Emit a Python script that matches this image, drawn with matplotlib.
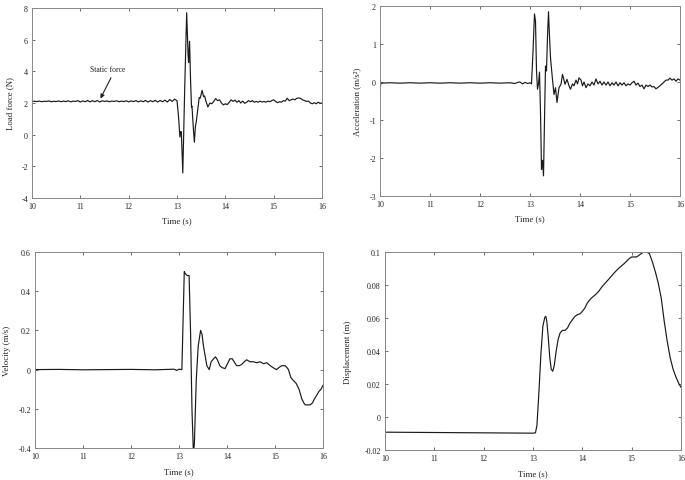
import matplotlib
matplotlib.use("Agg")
import matplotlib.pyplot as plt
from matplotlib.ticker import FuncFormatter

plt.rcParams['font.family'] = ['Liberation Serif', 'DejaVu Serif']

# ---------------- data ----------------
force_t = [10.0, 10.05, 10.1, 10.15, 10.2, 10.25, 10.3, 10.35, 10.4, 10.45, 10.5, 10.55, 10.6, 10.65,
           10.7, 10.75, 10.8, 10.85, 10.9, 10.95, 11.0, 11.05, 11.1, 11.15, 11.2, 11.25, 11.3, 11.35,
           11.4, 11.45, 11.5, 11.55, 11.6, 11.65, 11.7, 11.75, 11.8, 11.85, 11.9, 11.95, 12.0, 12.05,
           12.1, 12.15, 12.2, 12.25, 12.3, 12.35, 12.4, 12.45, 12.5, 12.55, 12.6, 12.65, 12.7, 12.75,
           12.8, 12.85, 12.9, 12.95, 13.0,
           13.03, 13.06, 13.08, 13.09, 13.12, 13.16, 13.2, 13.23, 13.24, 13.26, 13.28, 13.3, 13.31,
           13.34, 13.36, 13.38, 13.4, 13.43, 13.46, 13.48, 13.52, 13.55, 13.57, 13.6, 13.64, 13.68,
           13.72, 13.76, 13.8, 13.84, 13.88, 13.92, 13.96, 14.0, 14.04, 14.08, 14.12, 14.16, 14.2,
           14.24, 14.28, 14.32, 14.36, 14.4, 14.44, 14.48, 14.52, 14.56, 14.6, 14.64, 14.68, 14.72,
           14.76, 14.8, 14.84, 14.88, 14.92, 14.96, 15.0, 15.04, 15.08, 15.12, 15.16, 15.2, 15.24,
           15.28, 15.32, 15.36, 15.4, 15.44, 15.48, 15.52, 15.56, 15.6, 15.64, 15.68, 15.72, 15.76,
           15.8, 15.84, 15.88, 15.92, 15.96, 16.0]
force_v = [2.10, 2.11, 2.09, 2.12, 2.08, 2.11, 2.10, 2.13, 2.08, 2.11, 2.09, 2.13, 2.08, 2.12,
           2.09, 2.14, 2.07, 2.12, 2.10, 2.15, 2.06, 2.13, 2.08, 2.16, 2.07, 2.15, 2.08, 2.16,
           2.06, 2.14, 2.10, 2.13, 2.08, 2.12, 2.10, 2.14, 2.08, 2.12, 2.09, 2.14, 2.07, 2.13,
           2.09, 2.15, 2.07, 2.14, 2.08, 2.16, 2.06, 2.15, 2.08, 2.17, 2.06, 2.16, 2.08, 2.18,
           2.06, 2.22, 2.10, 2.24, 2.15,
           1.2, -0.15, 0.2, 0.15, -2.42, 3.0, 7.7, 5.0, 4.55, 5.9, 3.5, 1.75, 1.8,
           0.3, -0.48, 0.5, 0.85, 1.6, 2.35, 2.3, 2.8, 2.4, 2.45, 2.1, 1.75, 2.0,
           1.95, 2.1, 2.28, 2.15, 2.2, 2.0, 1.88, 1.95, 1.9, 2.05, 2.2, 2.1, 2.18,
           2.05, 2.15, 2.0, 2.12, 1.98, 2.05, 2.15, 2.08, 2.15, 2.05, 2.1, 2.05, 2.12,
           2.06, 2.1, 2.05, 2.12, 2.08, 2.15, 2.2, 2.1, 2.02, 2.08, 2.05, 2.15, 2.12,
           2.3, 2.15, 2.2, 2.25, 2.2, 2.3, 2.32, 2.28, 2.2, 2.15, 2.1, 2.12, 2.0,
           1.95, 2.02, 1.95, 2.05, 1.98, 2.0]

acc_t = [10.0, 10.02, 10.2, 10.4, 10.6, 10.8, 11.0, 11.2, 11.4, 11.6, 11.8, 12.0, 12.2, 12.4,
         12.6, 12.7, 12.75, 12.8, 12.85, 12.9, 12.95, 13.0, 13.03, 13.06, 13.09, 13.11, 13.13,
         13.15, 13.17, 13.19, 13.21, 13.23, 13.25, 13.27, 13.29, 13.31, 13.33, 13.35, 13.37,
         13.39, 13.41, 13.44, 13.48, 13.51, 13.54, 13.58, 13.62, 13.65, 13.68, 13.7, 13.74,
         13.78, 13.81, 13.85, 13.88, 13.92, 13.95, 13.98, 14.02, 14.05, 14.08, 14.12, 14.16,
         14.2, 14.24, 14.28, 14.32, 14.36, 14.4, 14.44, 14.48, 14.52, 14.56, 14.6, 14.64, 14.68,
         14.72, 14.76, 14.8, 14.84, 14.88, 14.92, 14.96, 15.0, 15.04, 15.08, 15.12, 15.16, 15.2,
         15.24, 15.28, 15.32, 15.36, 15.4, 15.44, 15.48, 15.52, 15.56, 15.6, 15.64, 15.68, 15.72,
         15.76, 15.8, 15.84, 15.88, 15.92, 15.96, 16.0]
acc_v = [-0.15, -0.03, -0.02, -0.03, -0.02, -0.03, -0.02, -0.03, -0.02, -0.03, -0.02, -0.03,
         -0.02, -0.03, -0.02, -0.04, -0.01, 0.0, -0.05, -0.01, -0.04, -0.02, -0.05, 0.8, 1.79,
         1.6, 0.3, -0.19, -0.05, 0.26, -0.8, -2.30, -2.06, -2.47, -1.0, 0.42, 0.29, 1.2, 1.85,
         1.2, 0.64, 0.2, -0.33, -0.15, -0.54, -0.15, -0.06, 0.2, 0.05, -0.06, 0.07,
         -0.1, -0.19, -0.05, -0.1, 0.05, -0.05, 0.11, 0.05, -0.1, 0.0, -0.15, -0.05,
         -0.1, 0.0, -0.08, 0.08, -0.05, 0.02, -0.08, 0.0, -0.08, 0.0, -0.1, -0.02, -0.08,
         0.0, -0.1, -0.02, -0.08, -0.02, -0.1, -0.05, -0.08, -0.02, 0.02, -0.08, -0.03, -0.12,
         -0.08, -0.18, -0.08, -0.12, -0.08, -0.13, -0.12, -0.18, -0.14, -0.1, -0.05, 0.0, 0.05,
         0.05, 0.1, 0.05, 0.08, 0.02, 0.08, 0.05]

vel_t = [10.0, 10.5, 11.0, 11.5, 12.0, 12.5, 12.9, 12.95, 13.0, 13.06, 13.08, 13.11, 13.13,
         13.17, 13.21, 13.24, 13.27, 13.30, 13.32, 13.36, 13.40, 13.45, 13.48, 13.51, 13.58,
         13.63, 13.67, 13.72, 13.76, 13.80, 13.85, 13.90, 13.96, 14.01, 14.06, 14.11, 14.15,
         14.2, 14.25, 14.3, 14.36, 14.41, 14.48, 14.55, 14.62, 14.69, 14.76, 14.83, 14.9,
         14.96, 15.03, 15.08, 15.14, 15.21, 15.25, 15.28, 15.33, 15.38, 15.44, 15.5, 15.56,
         15.6, 15.63, 15.68, 15.73, 15.78, 15.82, 15.87, 15.92, 15.96, 16.0]
vel_v = [0.0, 0.001, -0.001, 0.0, 0.001, -0.001, 0.002, -0.004, 0.002, 0.0, 0.2, 0.50, 0.49,
         0.48, 0.48, 0.2, -0.2, -0.43, -0.38, -0.05, 0.12, 0.20, 0.18, 0.12, 0.02,
         0.0, 0.04, 0.055, 0.065, 0.05, 0.02, 0.01, 0.005, 0.03, 0.055, 0.055, 0.04,
         0.02, 0.02, 0.025, 0.04, 0.05, 0.04, 0.04, 0.035, 0.04, 0.03, 0.035, 0.02,
         0.01, 0.0, 0.01, 0.02, 0.02, 0.01, 0.0, -0.04, -0.055, -0.07, -0.1, -0.15,
         -0.17, -0.18, -0.18, -0.18, -0.17, -0.15, -0.13, -0.11, -0.1, -0.08]

disp_t = [10.0, 11.0, 12.0, 13.0, 13.05, 13.08, 13.12, 13.16, 13.2, 13.24, 13.26, 13.28, 13.31,
          13.34, 13.37, 13.40, 13.43, 13.47, 13.51, 13.55, 13.6, 13.65, 13.7, 13.75, 13.8, 13.85,
          13.9, 13.95, 14.0, 14.05, 14.1, 14.15, 14.2, 14.28, 14.34, 14.4, 14.46, 14.55, 14.65,
          14.75, 14.85, 14.95, 15.0, 15.1, 15.17, 15.24, 15.3, 15.36, 15.42, 15.48, 15.54, 15.6,
          15.66, 15.72, 15.78, 15.84, 15.9, 15.96, 16.0]
disp_v = [-0.0092, -0.0094, -0.0096, -0.0098, -0.0096, -0.005, 0.015, 0.038, 0.055, 0.0605,
          0.061, 0.058, 0.048, 0.036, 0.029, 0.0277, 0.031, 0.040, 0.047, 0.051, 0.0525, 0.0525,
          0.054, 0.057, 0.059, 0.061, 0.062, 0.0625, 0.064, 0.066, 0.069, 0.071, 0.0725, 0.0745,
          0.0765, 0.079, 0.081, 0.084, 0.0875, 0.0905, 0.093, 0.096, 0.097, 0.097, 0.0985, 0.1,
          0.1, 0.099, 0.094, 0.088, 0.081, 0.072, 0.058, 0.046, 0.036, 0.029, 0.024, 0.02, 0.018]

x_ticks = [10, 11, 12, 13, 14, 15, 16]
force_ticks = [-4, -2, 0, 2, 4, 6, 8]
acc_ticks = [-3, -2, -1, 0, 1, 2]
vel_ticks = [-0.4, -0.2, 0, 0.2, 0.4, 0.6]
disp_ticks = [-0.02, 0, 0.02, 0.04, 0.06, 0.08, 0.1]

# ---------------- figure ----------------
fig = plt.figure(figsize=(6.85, 4.81), dpi=100)
W, H = 685, 481


def make_ax(l, r, t, b):
    return fig.add_axes([l / W, 1 - b / H, (r - l) / W, (b - t) / H])


ax1 = make_ax(32, 322, 9, 199)
ax2 = make_ax(380, 680, 7, 197)
ax3 = make_ax(35, 323, 253, 449)
ax4 = make_ax(385, 681, 253, 451)

fmt = FuncFormatter(lambda v, _: ('%g' % round(v, 6)) if abs(v) > 1e-12 else '0')

specs = [
    (ax1, force_t, force_v, force_ticks, (-4, 8), 'Load force (N)', -0.062),
    (ax2, acc_t, acc_v, acc_ticks, (-3, 2), 'Acceleration (m/s²)', -0.063),
    (ax3, vel_t, vel_v, vel_ticks, (-0.4, 0.6), 'Velocity (m/s)', -0.083),
    (ax4, disp_t, disp_v, disp_ticks, (-0.02, 0.1), 'Displacement (m)', -0.111),
]
for ax, t, v, yt, ylim, lab, lx in specs:
    ax.plot(t, v, color='#1a1a1a', lw=0.85)
    ax.set_xlim(10, 16)
    ax.set_ylim(*ylim)
    ax.set_xticks(x_ticks)
    ax.set_yticks(yt)
    ax.yaxis.set_major_formatter(fmt)
    ax.tick_params(direction='in', top=True, right=True, length=2.5, width=0.6,
                   colors='#555555', labelcolor='#222222', labelsize=5.8, pad=3)
    for s in ax.spines.values():
        s.set_color('#888888')
        s.set_linewidth(0.7)
    ax.set_xlabel('Time (s)', fontsize=6.3, color='#222222')
    ax.set_ylabel(lab, fontsize=6.3, color='#222222')
    ax.yaxis.set_label_coords(lx, 0.5)
    ax.xaxis.set_label_coords(0.5, -0.098)

ax1.text(11.57, 4.15, 'Static force', fontsize=5.6, ha='center', va='center', color='#222222')
ax1.annotate('', xy=(11.39, 2.12), xytext=(11.66, 3.75),
             arrowprops=dict(arrowstyle='-|>', color='#222222', lw=0.8, mutation_scale=6))

fig.savefig('out.png', dpi=100)
